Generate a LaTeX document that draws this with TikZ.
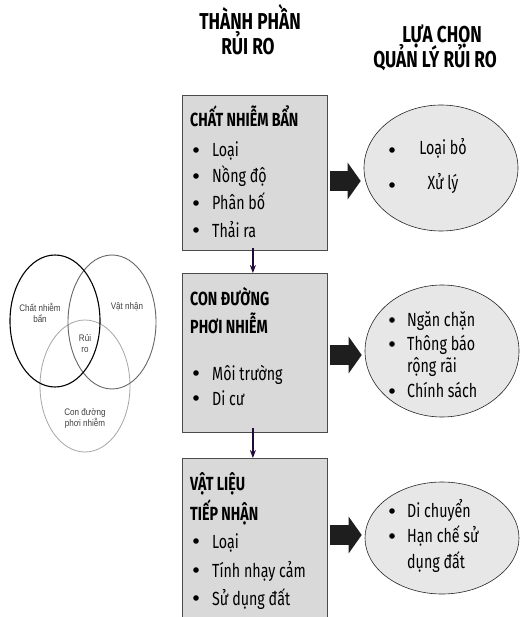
\documentclass[tikz,border=0pt]{standalone}
\usepackage{fontspec}
\setmainfont{Fira Sans}[FakeStretch=0.75]
\newfontfamily\vennfont{Liberation Sans}[FakeStretch=0.85]
\usetikzlibrary{arrows.meta,shapes.geometric}
\definecolor{boxgray}{HTML}{D9D9D9}
\definecolor{ovalgray}{HTML}{E7E7E7}
\definecolor{linkink}{HTML}{1F0A3A}
\definecolor{blockink}{HTML}{1E1E1E}
\begin{document}
\begin{tikzpicture}[x=1pt,y=-1pt,every node/.style={inner sep=0pt},
  riskbox/.style={draw=black!70,line width=0.8pt,fill=boxgray,anchor=north west,minimum width=145pt},
  optoval/.style={draw=black!85,line width=0.6pt,fill=ovalgray,ellipse,minimum width=154pt},
  hdr/.style={font=\fontsize{23}{26}\selectfont\bfseries,anchor=base},
  ttl/.style={font=\fontsize{19}{22}\selectfont\bfseries,anchor=base west},
  item/.style={font=\fontsize{19}{22}\selectfont,anchor=base west},
  downarr/.style={line width=1.6pt,linkink,-{Stealth[length=8pt,width=6pt]}},
  blockarr/.style={line width=20pt,blockink,-{Triangle[length=13pt,width=36pt]}},
  vtext/.style={font=\vennfont\fontsize{9.5}{11}\selectfont,text=black!75,align=center}]
\clip (0,0) rectangle (523,617);
\fill[white] (0,0) rectangle (523,617);
% column headers
\node[hdr] (hdrL1) at (250,30) {THÀNH PHẦN};
\node[hdr] (hdrL2) at (248,55) {RỦI RO};
\node[hdr] (hdrR1) at (442,43) {LỰA CHỌN};
\node[hdr] (hdrR2) at (435,68) {QUẢN LÝ RỦI RO};
% risk component boxes
\node[riskbox,minimum height=155pt] (comp) at (182,95) {};
\node[riskbox,minimum height=159pt] (path) at (182,273) {};
\node[riskbox,minimum height=180pt] (recv) at (182,458) {};
\draw[downarr] ([xshift=-2pt,yshift=3pt]comp.south) -- ([xshift=-2pt]path.north);
\draw[downarr] ([xshift=-2pt,yshift=5pt]path.south) -- ([xshift=-2pt]recv.north);
% box texts
\node[ttl] (compT) at (190,127) {CHẤT NHIỄM BẨN};
\foreach \t/\y [count=\i] in {Loại/157,Nồng độ/183,Phân bố/210,Thải ra/237} {
  \fill (196,\y-7) circle (2.8);
  \node[item] (compI\i) at (212,\y) {\t};
}
\node[ttl] (pathT1) at (190,305) {CON ĐƯỜNG};
\node[ttl] (pathT2) at (190,333) {PHƠI NHIỄM};
\foreach \t/\y [count=\i] in {Môi trường/380,Di cư/405} {
  \fill (196,\y-7) circle (2.8);
  \node[item] (pathI\i) at (212,\y) {\t};
}
\node[ttl] (recvT1) at (190,490) {VẬT LIỆU};
\node[ttl] (recvT2) at (190,520) {TIẾP NHẬN};
\foreach \t/\y [count=\i] in {Loại/548,Tính nhạy cảm/577,Sử dụng đất/605} {
  \fill (196,\y-7) circle (2.8);
  \node[item] (recvI\i) at (212,\y) {\t};
}
% management options
\node[optoval,minimum height=126pt] (optA) at (441,168) {};
\node[optoval,minimum height=132pt] (optB) at (442,351) {};
\node[optoval,minimum height=112pt] (optC) at (442,538) {};
\coordinate (tA) at (330,181);
\coordinate (tB) at (330,355);
\coordinate (tC) at (330,535);
\draw[blockarr] (tA) -- ([xshift=-3pt]tA -| optA.west);
\draw[blockarr] (tB) -- ([xshift=-3pt]tB -| optB.west);
\draw[blockarr] (tC) -- ([xshift=-3pt]tC -| optC.west);
\foreach \t/\y [count=\i] in {Loại bỏ/155,Xử lý/190} {
  \fill (392,\y-5) circle (2.8);
  \node[item,anchor=base] (optAI\i) at (443,\y) {\t};
}
\foreach \t/\y [count=\i] in {Ngăn chặn/326,Thông báo/350,Chính sách/397} {
  \fill (392,\y-6) circle (2.8);
  \node[item] (optBI\i) at (407,\y) {\t};
}
\node[item] (optBI4) at (407,372) {rộng rãi};
\foreach \t/\y [count=\i] in {Di chuyển/517,Hạn chế sử/542} {
  \fill (392,\y-6) circle (2.8);
  \node[item] (optCI\i) at (407,\y) {\t};
}
\node[item] (optCI3) at (407,568) {dụng đất};
% venn of risk
\draw[black!35,line width=0.8pt] (85,386) ellipse (45 and 66);
\draw[black!60,line width=0.9pt] (112,322) ellipse (44 and 67);
\draw[black,line width=1.1pt] (55,321) ellipse (45 and 66);
\node[vtext] (vA) at (40,313) {Chất nhiễm\\bẩn};
\node[vtext] (vB) at (127,307) {Vật nhận};
\node[vtext] (vR) at (85,343) {Rủi\\ro};
\node[vtext] (vC) at (85,418) {Con đường\\phơi nhiễm};
\end{tikzpicture}
\end{document}
